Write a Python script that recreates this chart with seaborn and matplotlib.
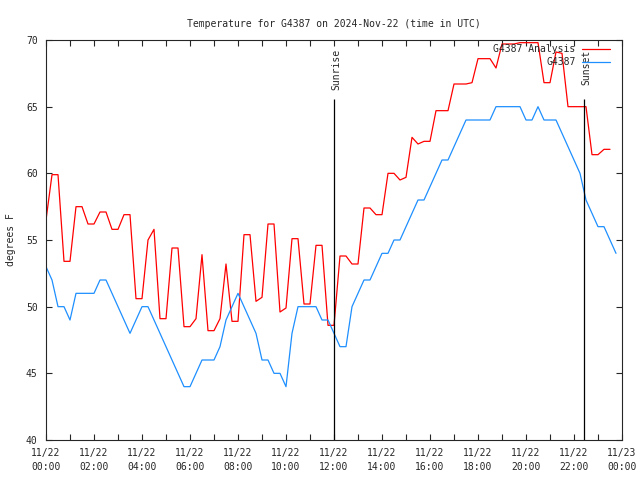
import matplotlib
matplotlib.use("Agg")
import matplotlib.pyplot as plt
import matplotlib.dates as mdates
import pandas as pd
import seaborn as sns

station = "G4387"
day = "2024-11-22"

# observed temperature, one value every 15 minutes from 00:00 UTC (deg F)
temp_f = [53, 52, 50, 50, 49, 51, 51, 51, 51, 52, 52, 51, 50, 49, 48, 49,
          50, 50, 49, 48, 47, 46, 45, 44, 44, 45, 46, 46, 46, 47, 49, 50,
          51, 50, 49, 48, 46, 46, 45, 45, 44, 48, 50, 50, 50, 50, 49, 49,
          48, 47, 47, 50, 51, 52, 52, 53, 54, 54, 55, 55, 56, 57, 58, 58,
          59, 60, 61, 61, 62, 63, 64, 64, 64, 64, 64, 65, 65, 65, 65, 65,
          64, 64, 65, 64, 64, 64, 63, 62, 61, 60, 58, 57, 56, 56, 55, 54]

# analysis temperature, same 15 minute steps
analysis_f = [56.5, 59.9, 59.9, 53.4, 53.4, 57.5, 57.5, 56.2, 56.2, 57.1, 57.1, 55.8,
              55.8, 56.9, 56.9, 50.6, 50.6, 55.0, 55.8, 49.1, 49.1, 54.4, 54.4, 48.5,
              48.5, 49.1, 53.9, 48.2, 48.2, 49.1, 53.2, 48.9, 48.9, 55.4, 55.4, 50.4,
              50.7, 56.2, 56.2, 49.6, 49.9, 55.1, 55.1, 50.2, 50.2, 54.6, 54.6, 48.6,
              48.6, 53.8, 53.8, 53.2, 53.2, 57.4, 57.4, 56.9, 56.9, 60.0, 60.0, 59.5,
              59.7, 62.7, 62.2, 62.4, 62.4, 64.7, 64.7, 64.7, 66.7, 66.7, 66.7, 66.8,
              68.6, 68.6, 68.6, 67.9, 69.7, 69.7, 69.7, 69.8, 69.8, 69.8, 69.8, 66.8,
              66.8, 69.1, 69.0, 65.0, 65.0, 65.0, 65.0, 61.4, 61.4, 61.8, 61.8]

sun_events = ["Sunrise", "Sunset"]
sun_times = ["2024-11-22 12:00", "2024-11-22 22:25"]

df_obs = pd.DataFrame({"time": pd.date_range(day, periods=len(temp_f), freq="15min"),
                       "temp": temp_f})
df_ana = pd.DataFrame({"time": pd.date_range(day, periods=len(analysis_f), freq="15min"),
                       "temp": analysis_f})

sns.set_style("ticks")
plt.rcParams["font.family"] = ["DejaVu Sans Mono"]
plt.rcParams["axes.linewidth"] = 0.8

fig = plt.figure(figsize=(6.4, 4.8), dpi=100)
ax = fig.add_axes([46 / 640, 40 / 480, 576 / 640, 400 / 480])

sns.lineplot(data=df_ana, x="time", y="temp", color="#ff0000", linewidth=0.9,
             estimator=None, ax=ax, label=station + " Analysis")
sns.lineplot(data=df_obs, x="time", y="temp", color="#1e8fff", linewidth=0.9,
             estimator=None, ax=ax, label=station)

for name, t in zip(sun_events, sun_times):
    t = pd.Timestamp(t)
    ax.vlines(t, 40, 65.6, color="black", linewidth=0.9)
    ax.annotate(name, xy=(t, 69.3), xytext=(2, 0), textcoords="offset pixels",
                rotation=90, ha="center", va="top", fontsize=7)

ax.set_xlim(pd.Timestamp(day), pd.Timestamp(day) + pd.Timedelta(hours=24))
ax.set_ylim(40, 70)
ax.set_yticks(range(40, 71, 5))
ax.xaxis.set_major_locator(mdates.HourLocator(byhour=range(0, 24, 2)))
ax.xaxis.set_minor_locator(mdates.HourLocator())
ax.xaxis.set_major_formatter(mdates.DateFormatter("%m/%d\n%H:%M"))
ax.tick_params(which="both", direction="in", top=True, right=True,
               length=4, width=0.8, labelsize=7, pad=6)
for lbl in ax.get_xticklabels():
    lbl.set_linespacing(1.5)

ax.set_title("Temperature for %s on 2024-Nov-22 (time in UTC)" % station,
             fontsize=7, pad=9)
ax.set_xlabel("")
ax.set_ylabel("degrees F", fontsize=7)
ax.yaxis.set_label_coords(-0.052, 0.5)

ax.legend(loc="upper right", bbox_to_anchor=(0.98, 0.99), frameon=False,
          markerfirst=False, fontsize=7, handlelength=2.9, handletextpad=0.7,
          labelspacing=0.35, borderpad=0, borderaxespad=0)

fig.savefig("out.png", dpi=100)
